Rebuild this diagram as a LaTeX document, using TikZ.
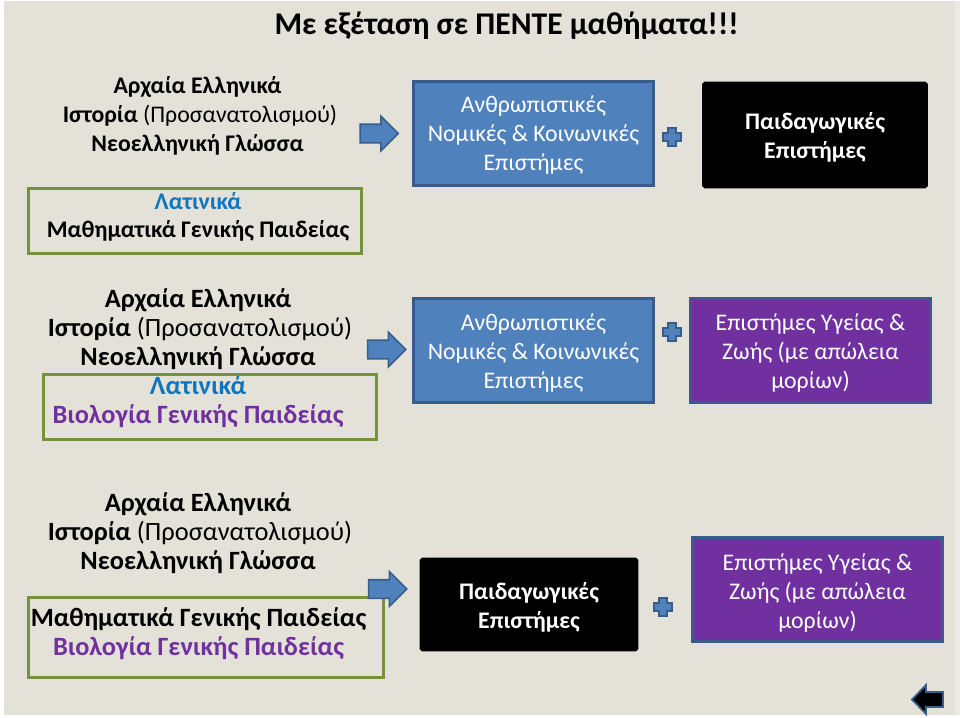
\documentclass[tikz,border=0pt]{standalone}
\usepackage{fontspec}
\setmainfont{Carlito}
\usetikzlibrary{shapes.arrows}
\definecolor{panelbg}{HTML}{E4E2D8}
\definecolor{panelrim}{HTML}{ECEAE2}
\definecolor{boxblue}{HTML}{4F81BD}
\definecolor{edgeblue}{HTML}{385D8A}
\definecolor{boxpurple}{HTML}{7030A0}
\definecolor{boxgreen}{HTML}{76923C}
\definecolor{textblue}{HTML}{0F75BC}
\tikzset{
  subjects/.style={align=center,inner sep=0pt,font=\fontsize{23.8}{28.7}\selectfont},
  bigsubjects/.style={align=center,inner sep=0pt,font=\fontsize{26.4}{29}\selectfont},
  framebox/.style={draw=boxgreen,line width=3pt,inner sep=0pt},
  stream/.style={align=center,inner sep=0pt,text=white,line width=2.6pt,font=\fontsize{23.8}{29}\selectfont},
  bluestream/.style={stream,fill=boxblue,draw=edgeblue},
  blackstream/.style={stream,fill=black,draw=black,rounded corners=1.5pt},
  purplestream/.style={stream,fill=boxpurple,draw=edgeblue},
  blockarrow/.style={single arrow,fill=boxblue,draw=edgeblue,line width=1.6pt,inner sep=8.5pt,
    minimum height=38pt,minimum width=33pt,single arrow head extend=8pt,single arrow tip angle=90},
  plusshaft/.style={fill=boxblue,draw=edgeblue,line width=1.8pt,inner sep=0pt},
}
% plus sign between two streams
\newcommand{\plusmark}[2]{
  \draw[plusshaft] (#1-4,#2-9) -- (#1+4,#2-9) -- (#1+4,#2-4) -- (#1+9,#2-4) -- (#1+9,#2+4) -- (#1+4,#2+4)
    -- (#1+4,#2+9) -- (#1-4,#2+9) -- (#1-4,#2+4) -- (#1-9,#2+4) -- (#1-9,#2-4) -- (#1-4,#2-4) -- cycle;
}
% invisible first-line prop, pushes the lines of a box down
\newcommand{\prop}[1]{\rule{0pt}{#1pt}}
\begin{document}
\begin{tikzpicture}[x=1pt,y=-1pt]
  \useasboundingbox (0,0) rectangle (960,717);
  \fill[panelrim] (955,1) rectangle (960,715);
  \fill[panelbg] (4,1) rectangle (955,715);

  \node (title) [inner sep=0pt,font=\bfseries\fontsize{31.6}{34}\selectfont] at (506.5,26) {Με εξέταση σε ΠΕΝΤΕ μαθήματα!!!};

  % first row
  \node (list1) [subjects] at (197.5,116) {\textbf{Αρχαία Ελληνικά}\\\hspace*{5pt}\textbf{Ιστορία} (Προσανατολισμού)\\\textbf{Νεοελληνική Γλώσσα}};
  \node (frame1) [framebox,minimum width=333pt,minimum height=65pt] at (194.5,220.5) {};
  \node (list1b) [subjects] at (198,217) {\textcolor{textblue}{\textbf{Λατινικά}}\\\textbf{Μαθηματικά Γενικής Παιδείας}};
  \node (arrow1) [blockarrow] at (374.5,133.5) {};
  \node (human1) [bluestream,minimum width=240pt,minimum height=104pt] at (533.5,133.5) {\prop{19}Ανθρωπιστικές\\Νομικές \& Κοινωνικές\\Επιστήμες};
  \plusmark{672}{137}
  \node (pedag1) [blackstream,minimum width=223pt,minimum height=104pt] at (815,135) {\prop{22}\textbf{Παιδαγωγικές}\\\textbf{Επιστήμες}};

  % second row
  \node (list2) [bigsubjects] at (198,358) {\textbf{Αρχαία Ελληνικά}\\\hspace*{4pt}\textbf{Ιστορία} (Προσανατολισμού)\\\textbf{Νεοελληνική Γλώσσα}\\\textcolor{textblue}{\textbf{Λατινικά}}\\\textcolor{boxpurple}{\textbf{Βιολογία Γενικής Παιδείας}}};
  \node (frame2) [framebox,minimum width=333pt,minimum height=65pt] at (209.5,406.5) {};
  \node (arrow2) [blockarrow] at (382,349.5) {};
  \node (human2) [bluestream,minimum width=240pt,minimum height=104pt] at (533.5,350.5) {\prop{21}Ανθρωπιστικές\\Νομικές \& Κοινωνικές\\Επιστήμες};
  \plusmark{672}{332}
  \node (health2) [purplestream,minimum width=240pt,minimum height=104pt] at (810.5,350.5) {\prop{21}Επιστήμες Υγείας \&\\Ζωής (με απώλεια\\μορίων)};

  % third row
  \node (list3) [bigsubjects] at (198,533) {\textbf{Αρχαία Ελληνικά}\\\hspace*{4pt}\textbf{Ιστορία} (Προσανατολισμού)\\\textbf{Νεοελληνική Γλώσσα}};
  \node (frame3) [framebox,minimum width=355pt,minimum height=80pt] at (205.5,637) {};
  \node (list3b) [bigsubjects] at (198.5,633.5) {\textbf{Μαθηματικά Γενικής Παιδείας}\\\textcolor{boxpurple}{\textbf{Βιολογία Γενικής Παιδείας}}};
  \node (arrow3) [blockarrow] at (383,589) {};
  \node (pedag3) [blackstream,minimum width=216pt,minimum height=91pt] at (529,604.5) {\prop{22}\textbf{Παιδαγωγικές}\\\textbf{Επιστήμες}};
  \plusmark{663}{607}
  \node (health3) [purplestream,minimum width=250pt,minimum height=104pt] at (817.5,589.5) {\prop{23}Επιστήμες Υγείας \&\\Ζωής (με απώλεια\\μορίων)};

  % back button
  \draw[fill=black,draw=edgeblue,line width=1.8pt] (912,699.5) -- (926,685) -- (926,692) -- (943,692) -- (943,707) -- (926,707) -- (926,714) -- cycle;
\end{tikzpicture}
\end{document}
